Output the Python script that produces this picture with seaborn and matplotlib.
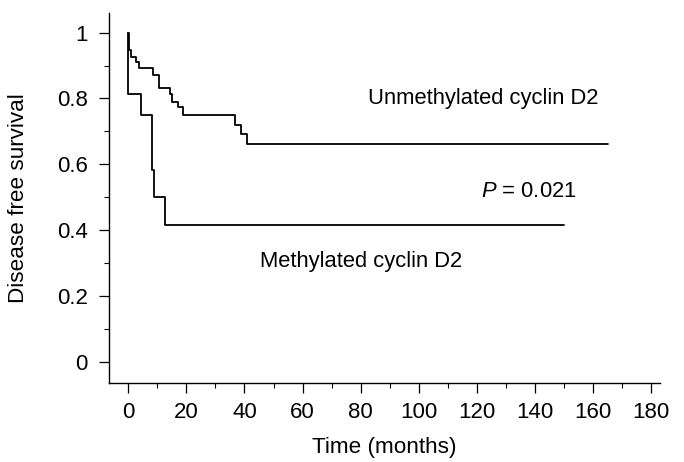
import matplotlib
matplotlib.use("Agg")
import matplotlib.pyplot as plt
import seaborn as sns
import pandas as pd
from matplotlib.ticker import MultipleLocator

# Data (Kaplan-Meier step curves)
unmeth_time = [0, 0.3, 1.1, 2.6, 3.7, 8.5, 10.6, 14.3, 15.2, 17.1, 18.9, 36.8, 38.9, 41.0, 165]
unmeth_surv = [1.0, 0.947, 0.925, 0.912, 0.892, 0.871, 0.833, 0.813, 0.79, 0.773, 0.75, 0.72, 0.692, 0.663, 0.663]
meth_time = [0, 0, 4.5, 8.3, 8.8, 12.8, 150]
meth_surv = [1.0, 0.813, 0.75, 0.583, 0.5, 0.415, 0.415]

x_ticks = [0, 20, 40, 60, 80, 100, 120, 140, 160, 180]
y_ticks = [0, 0.2, 0.4, 0.6, 0.8, 1]
y_ticklabels = ["0", "0.2", "0.4", "0.6", "0.8", "1"]

sns.set_style("ticks")
plt.rcParams["font.family"] = ["Liberation Sans", "DejaVu Sans"]
plt.rcParams["mathtext.fontset"] = "custom"
plt.rcParams["mathtext.it"] = "Liberation Sans:italic"
plt.rcParams["mathtext.rm"] = "Liberation Sans"
plt.rcParams["text.color"] = "black"
plt.rcParams["axes.labelcolor"] = "black"
plt.rcParams["xtick.color"] = "black"
plt.rcParams["ytick.color"] = "black"

FS = 16.0
FS_TXT = 15.8

df_u = pd.DataFrame({"time": unmeth_time, "surv": unmeth_surv})
df_m = pd.DataFrame({"time": meth_time, "surv": meth_surv})

fig = plt.figure(figsize=(6.84, 4.62), dpi=100)
ax = fig.add_axes([0.159, 0.171, 0.806, 0.801])

for d in (df_u, df_m):
    sns.lineplot(data=d, x="time", y="surv", ax=ax, estimator=None, sort=False,
                 drawstyle="steps-post", color="black", linewidth=1.3)

ax.set_xlim(-6.7, 183)
ax.set_ylim(-0.065, 1.06)
ax.set_xticks(x_ticks)
ax.set_yticks(y_ticks)
ax.set_yticklabels(y_ticklabels)
ax.xaxis.set_minor_locator(MultipleLocator(10))
ax.yaxis.set_minor_locator(MultipleLocator(0.1))
ax.tick_params(which="major", length=7, width=0.9, labelsize=FS, color="black", labelcolor="black")
ax.tick_params(axis="x", which="major", pad=7)
ax.tick_params(axis="y", which="major", pad=8)
ax.tick_params(which="minor", length=3.6, width=0.8, color="black")
for s in ("top", "right"):
    ax.spines[s].set_visible(False)
for s in ("left", "bottom"):
    ax.spines[s].set_linewidth(1.0)
    ax.spines[s].set_color("black")

ax.set_xlabel("Time (months)", fontsize=16.2, labelpad=10)
ax.set_ylabel("Disease free survival", fontsize=16.2, labelpad=20)

ax.text(122, 0.80, "Unmethylated cyclin D2", fontsize=FS_TXT, ha="center", va="center")
ax.text(138, 0.517, "$P$ = 0.021", fontsize=FS_TXT, ha="center", va="center")
ax.text(80, 0.304, "Methylated cyclin D2", fontsize=FS_TXT, ha="center", va="center")

fig.savefig("out.png", dpi=100, facecolor="white")
